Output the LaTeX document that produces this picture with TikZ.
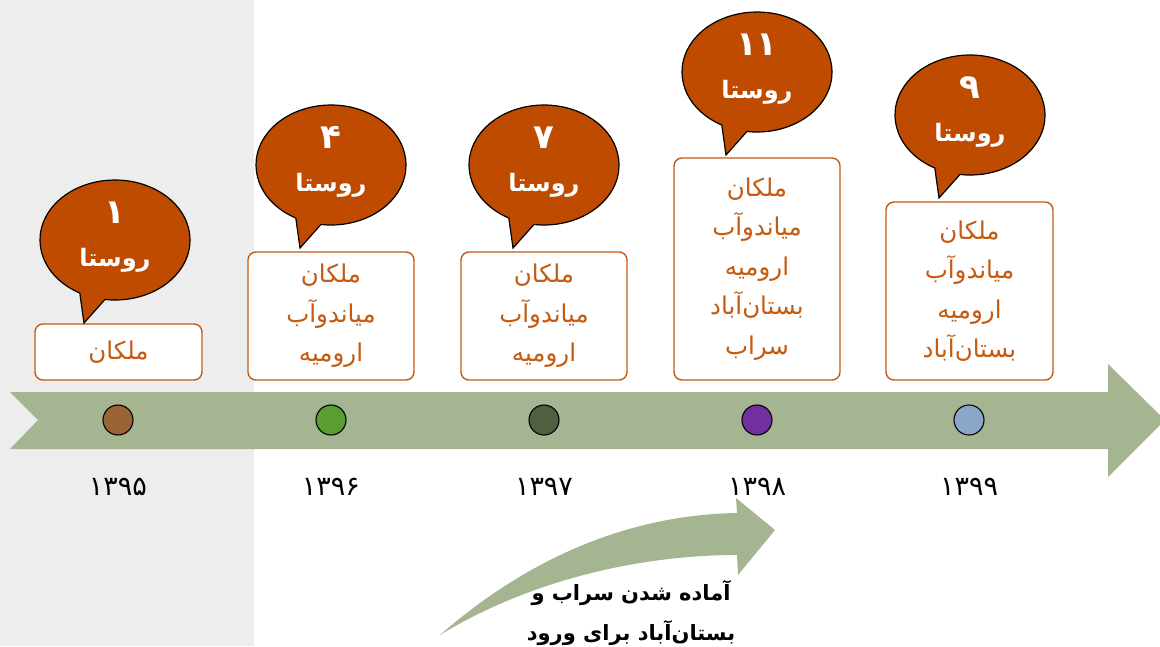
\documentclass[tikz,border=0pt]{standalone}
\usepackage{fontspec}
\TeXXeTstate=1
\newfontfamily\arabicfont[Script=Arabic]{DejaVu Sans}
\definecolor{bandgreen}{RGB}{165,181,146}
\definecolor{rust}{RGB}{190,75,0}
\definecolor{boxline}{RGB}{197,90,17}
\definecolor{sidegrey}{RGB}{237,237,237}
\definecolor{dotA}{RGB}{154,100,52}
\definecolor{dotB}{RGB}{90,158,50}
\definecolor{dotC}{RGB}{79,95,63}
\definecolor{dotD}{RGB}{112,48,159}
\definecolor{dotE}{RGB}{139,166,200}
\tikzset{
  yearlbl/.style={font=\arabicfont\fontsize{27}{30}\selectfont, inner sep=0pt},
  villbox/.style={draw=boxline, line width=1.4pt, rounded corners=8pt, fill=white,
    text=boxline, align=center, inner sep=0pt, minimum width=166pt,
    font=\arabicfont\fontsize{24.5}{39.5}\selectfont},
  yeardot/.style={circle, draw=black, line width=1.1pt, minimum size=30pt, inner sep=0pt},
  bubbletext/.style={text=white, align=center, inner sep=0pt,
    font=\arabicfont\bfseries\fontsize{24}{43}\selectfont},
  notetext/.style={text=black, align=center, inner sep=0pt,
    font=\arabicfont\bfseries\fontsize{21}{40}\selectfont},
  bubble/.pic={
    \filldraw[fill=rust, draw=black, line width=1.2pt]
      (-35.2,53) arc[start angle=118, end angle=457.7, x radius=75, y radius=60]
      -- (-31,83) -- cycle;
  }
}
\newcommand\countnum[1]{{\fontsize{34}{43}\selectfont #1}}
\begin{document}
\begin{tikzpicture}[x=1pt,y=-1pt]
\useasboundingbox (0,0) rectangle (1160,646);
\fill[white] (0,0) rectangle (1160,646);
\fill[sidegrey] (0,0) rectangle (254,646);

% timeline band with notched tail and arrow head
\fill[bandgreen] (10,392) -- (1108,392) -- (1108,364) -- (1165,420)
  -- (1108,477) -- (1108,449) -- (10,449) -- (38,420) -- cycle;

% year markers
\node[yeardot, fill=dotA] (d1) at (118,420) {};
\node[yeardot, fill=dotB] (d2) at (331,420) {};
\node[yeardot, fill=dotC] (d3) at (544,420) {};
\node[yeardot, fill=dotD] (d4) at (757,420) {};
\node[yeardot, fill=dotE] (d5) at (969,420) {};

\node[yearlbl] (y1) at (118,487) {۱۳۹۵};
\node[yearlbl] (y2) at (331,487) {۱۳۹۶};
\node[yearlbl] (y3) at (544,487) {۱۳۹۷};
\node[yearlbl] (y4) at (757,487) {۱۳۹۸};
\node[yearlbl] (y5) at (969,487) {۱۳۹۹};

% village lists
\node[villbox, minimum width=167pt, minimum height=56pt] (v1) at (118.5,352)
  {\beginR ملکان\endR};
\node[villbox, minimum height=128pt] (v2) at (331,316)
  {\beginR ملکان\endR\\ \beginR میاندوآب\endR\\ \beginR ارومیه\endR};
\node[villbox, minimum height=128pt] (v3) at (544,316)
  {\beginR ملکان\endR\\ \beginR میاندوآب\endR\\ \beginR ارومیه\endR};
\node[villbox, minimum height=222pt] (v4) at (757,269)
  {\beginR ملکان\endR\\ \beginR میاندوآب\endR\\ \beginR ارومیه\endR\\ \beginR بستان‌آباد\endR\\ \beginR سراب\endR};
\node[villbox, minimum width=167pt, minimum height=178pt] (v5) at (969.5,291)
  {\beginR ملکان\endR\\ \beginR میاندوآب\endR\\ \beginR ارومیه\endR\\ \beginR بستان‌آباد\endR};

% speech bubbles with village counts
\pic at (115,240) {bubble};
\node[bubbletext] (c1) at (115,237) {\countnum{۱}\\ \beginR روستا\endR};
\pic at (331,165) {bubble};
\node[bubbletext] (c2) at (331,162) {\countnum{۴}\\ \beginR روستا\endR};
\pic at (544,165) {bubble};
\node[bubbletext] (c3) at (544,162) {\countnum{۷}\\ \beginR روستا\endR};
\pic at (757,72) {bubble};
\node[bubbletext] (c4) at (757,69) {\countnum{۱۱}\\ \beginR روستا\endR};
\pic at (970,115) {bubble};
\node[bubbletext] (c5) at (970,112) {\countnum{۹}\\ \beginR روستا\endR};

% curved arrow with note
\fill[bandgreen] (440,635) .. controls (520,565) and (620,515) .. (737,513)
  -- (736,498) -- (775,530) -- (738,575) -- (737,555)
  .. controls (640,555) and (530,580) .. (440,635) -- cycle;
\node[notetext] (note) at (631,613)
  {\beginR آماده شدن سراب و\endR\\ \beginR بستان‌آباد برای ورود\endR};
\end{tikzpicture}
\end{document}
